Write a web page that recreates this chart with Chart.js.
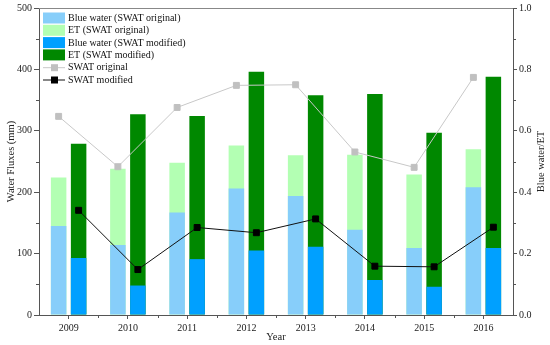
<!DOCTYPE html>
<html>
<head>
<meta charset="utf-8">
<script src="https://cdn.jsdelivr.net/npm/chart.js@4.4.1/dist/chart.umd.min.js"></script>
<style>
    html, body { margin: 0; padding: 0; background: #fff; }
    #wrap { width: 550px; height: 345px; }
</style>
</head>
<body>
<div id="wrap"><canvas id="fluxChart" width="550" height="345"></canvas></div>
<script>
// Values
const years = ['2009', '2010', '2011', '2012', '2013', '2014', '2015', '2016'];
const blueOriginal = [145, 114, 167, 206, 194, 139, 109, 208];
const etOriginal   = [224, 238, 248, 276, 260, 261, 229, 270];
const blueModified = [93, 48, 91, 105, 111, 57, 46, 109];
const etModified   = [279, 327, 324, 396, 358, 360, 297, 388];
const ratioOriginal = [0.647, 0.483, 0.676, 0.748, 0.750, 0.531, 0.481, 0.774];
const ratioModified = [0.341, 0.148, 0.285, 0.268, 0.313, 0.159, 0.157, 0.286];
const fluxTicks = [0, 100, 200, 300, 400, 500];
const ratioTicks = [0, 0.2, 0.4, 0.6, 0.8, 1.0];

const serif = "'Liberation Serif', 'Times New Roman', serif";
const axisColor = '#555';

// each year holds two bars side by side; original on the left, modified on the right
const GROUP_PCT = 0.675;
const BAR_PCT = 0.775;
const shift = GROUP_PCT / 4;
const left = (arr) => arr.map((v, i) => ({ x: i - shift, y: v }));
const right = (arr) => arr.map((v, i) => ({ x: i + shift, y: v }));

function useTicks(list) {
    return function(scale) {
        scale.ticks = list.map(v => ({ value: v }));
    };
}

// minor ticks, top border and axis titles
const framePlugin = {
    id: 'frame',
    afterDraw(chart) {
        const ctx = chart.ctx;
        const a = chart.chartArea;
        const y = chart.scales.y, y2 = chart.scales.y2, x = chart.scales.x;
        ctx.save();
        ctx.strokeStyle = axisColor;
        ctx.lineWidth = 1;
        ctx.beginPath();
        for (let i = 0; i < fluxTicks.length - 1; i++) {
            const py = Math.round(y.getPixelForValue((fluxTicks[i] + fluxTicks[i + 1]) / 2)) + 0.5;
            ctx.moveTo(a.left - 3, py); ctx.lineTo(a.left, py);
        }
        for (let i = 0; i < ratioTicks.length - 1; i++) {
            const py = Math.round(y2.getPixelForValue((ratioTicks[i] + ratioTicks[i + 1]) / 2)) + 0.5;
            ctx.moveTo(a.right, py); ctx.lineTo(a.right + 3, py);
        }
        for (let i = 0; i < years.length - 1; i++) {
            const px = Math.round((x.getPixelForValue(i) + x.getPixelForValue(i + 1)) / 2) + 0.5;
            ctx.moveTo(px, a.bottom); ctx.lineTo(px, a.bottom + 3);
        }
        ctx.stroke();
        ctx.strokeStyle = '#888';
        ctx.beginPath();
        ctx.moveTo(a.left, a.top + 0.5); ctx.lineTo(a.right, a.top + 0.5);
        ctx.stroke();

        ctx.fillStyle = '#222';
        ctx.font = '10.5px ' + serif;
        ctx.textAlign = 'center';
        ctx.textBaseline = 'middle';
        const midY = (a.top + a.bottom) / 2;
        ctx.fillText('Year', (a.left + a.right) / 2, 337);
        ctx.save();
        ctx.translate(11, midY);
        ctx.rotate(-Math.PI / 2);
        ctx.fillText('Water Fluxes (mm)', 0, 0);
        ctx.restore();
        ctx.save();
        ctx.translate(541, midY);
        ctx.rotate(-Math.PI / 2);
        ctx.fillText('Blue water/ET', 0, 0);
        ctx.restore();
        ctx.restore();
    }
};

// legend inside the plot, top left
const legendPlugin = {
    id: 'innerLegend',
    afterDatasetsDraw(chart) {
        const ctx = chart.ctx;
        const x0 = chart.chartArea.left + 4;
        let rowY = 18;
        ctx.save();
        ctx.font = '10px ' + serif;
        ctx.textBaseline = 'middle';
        ctx.textAlign = 'left';
        chart.data.datasets.forEach(ds => {
            if (ds.type === 'line') {
                ctx.strokeStyle = ds.borderColor;
                ctx.lineWidth = 1;
                ctx.beginPath();
                ctx.moveTo(x0, rowY + 0.5); ctx.lineTo(x0 + 22, rowY + 0.5);
                ctx.stroke();
                ctx.fillStyle = ds.pointBackgroundColor;
                ctx.fillRect(x0 + 8, rowY - 3, 7, 7);
            } else {
                ctx.fillStyle = ds.backgroundColor;
                ctx.fillRect(x0, rowY - 5.5, 22, 11);
            }
            ctx.fillStyle = '#111';
            ctx.fillText(ds.label, x0 + 25, rowY + 0.5);
            rowY += 12.3;
        });
        ctx.restore();
    }
};

const tickFont = { family: serif, size: 10 };

const barBase = { xAxisID: 'xl', yAxisID: 'y', grouped: false, categoryPercentage: 1, barPercentage: BAR_PCT };

new Chart(document.getElementById('fluxChart').getContext('2d'), {
    type: 'bar',
    data: {
        labels: years,
        datasets: [
            { ...barBase, label: 'Blue water (SWAT original)', data: left(blueOriginal), backgroundColor: '#87CEFA', order: 1 },
            { ...barBase, label: 'ET (SWAT original)', data: left(etOriginal), backgroundColor: '#B3FFB3', order: 2 },
            { ...barBase, label: 'Blue water (SWAT modified)', data: right(blueModified), backgroundColor: '#00A0FF', order: 1 },
            { ...barBase, label: 'ET (SWAT modified)', data: right(etModified), backgroundColor: '#008800', order: 2 },
            {
                type: 'line', label: 'SWAT original', order: 0,
                data: left(ratioOriginal),
                xAxisID: 'xl', yAxisID: 'y2',
                borderColor: '#C8C8C8', borderWidth: 1,
                pointStyle: 'rect', pointRadius: 4.2, pointBorderWidth: 1,
                pointBackgroundColor: '#C0C0C0', pointBorderColor: '#C0C0C0'
            },
            {
                type: 'line', label: 'SWAT modified', order: 0,
                data: right(ratioModified),
                xAxisID: 'xl', yAxisID: 'y2',
                borderColor: '#111', borderWidth: 1,
                pointStyle: 'rect', pointRadius: 4.2, pointBorderWidth: 1,
                pointBackgroundColor: '#000', pointBorderColor: '#000'
            }
        ]
    },
    options: {
        responsive: false,
        animation: false,
        layout: { padding: { top: 7, left: 0, right: 0, bottom: 0 } },
        plugins: {
            legend: { display: false },
            tooltip: { enabled: false }
        },
        scales: {
            x: {
                type: 'category',
                offset: true,
                grid: { offset: false, drawOnChartArea: false, tickLength: 4, color: axisColor },
                border: { color: axisColor },
                ticks: { font: tickFont, color: '#222', padding: 3, maxRotation: 0 },
                afterFit(scale) { scale.height = 30; }
            },
            xl: {
                type: 'linear',
                display: false,
                offset: false,
                grid: { offset: false },
                min: -0.5,
                max: years.length - 0.5
            },
            y: {
                position: 'left',
                stacked: false,
                min: 0,
                max: 500,
                afterBuildTicks: useTicks(fluxTicks),
                grid: { drawOnChartArea: false, tickLength: 5, color: axisColor },
                border: { color: axisColor },
                ticks: { font: tickFont, color: '#222', padding: 2 },
                afterFit(scale) { scale.width = 39; }
            },
            y2: {
                position: 'right',
                min: 0,
                max: 1,
                afterBuildTicks: useTicks(ratioTicks),
                grid: { drawOnChartArea: false, tickLength: 4, color: axisColor },
                border: { color: axisColor },
                ticks: {
                    font: tickFont, color: '#222', padding: 2,
                    callback: v => v.toFixed(1)
                },
                afterFit(scale) { scale.width = 37; }
            }
        }
    },
    plugins: [framePlugin, legendPlugin]
});
</script>
</body>
</html>
